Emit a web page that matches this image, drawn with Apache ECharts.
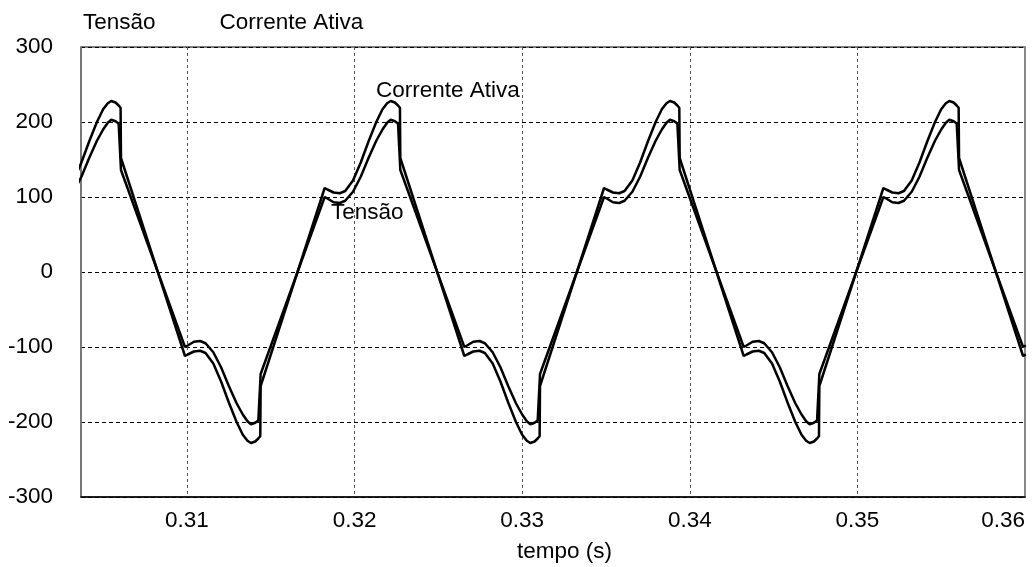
<!DOCTYPE html>
<html>
<head>
<meta charset="utf-8">
<script src="https://cdn.jsdelivr.net/npm/echarts@6/dist/echarts.min.js"></script>
<style>html,body{margin:0;padding:0;background:#fff}#c{width:1035px;height:567px}</style>
</head>
<body>
<div id="c"></div>
<script>
// tempo (s)
const tempo = [
  0.303241,0.303704,0.304167,0.304630,0.305000,0.305278,0.305486,0.305741,0.305926,0.306042,0.306065,
  0.309884,0.310046,0.310417,0.310787,0.311111,0.311574,0.312037,0.312500,0.312963,0.313333,0.313611,0.313819,0.314074,0.314259,0.314375,0.314398,
  0.318218,0.318380,0.318750,0.319121,0.319444,0.319907,0.320370,0.320833,0.321296,0.321667,0.321944,0.322153,0.322407,0.322593,0.322708,0.322731,
  0.326551,0.326713,0.327083,0.327454,0.327778,0.328241,0.328704,0.329167,0.329630,0.330000,0.330278,0.330486,0.330741,0.330926,0.331042,0.331065,
  0.334884,0.335046,0.335417,0.335787,0.336111,0.336574,0.337037,0.337500,0.337963,0.338333,0.338611,0.338819,0.339074,0.339259,0.339375,0.339398,
  0.343218,0.343380,0.343750,0.344120,0.344444,0.344907,0.345370,0.345833,0.346296,0.346667,0.346944,0.347153,0.347407,0.347593,0.347708,0.347731,
  0.351551,0.351713,0.352083,0.352454,0.352778,0.353241,0.353704,0.354167,0.354630,0.355000,0.355278,0.355486,0.355741,0.355926,0.356042,0.356065,
  0.359884,0.360046
];
// Corrente Ativa
const corrente = [
  122,146,174,200,217,225,228,226,222,219,152,
  -112,-110,-106,-105,-108,-122,-146,-174,-200,-217,-225,-228,-226,-222,-219,-152,
  112,110,106,105,108,122,146,174,200,217,225,228,226,222,219,152,
  -112,-110,-106,-105,-108,-122,-146,-174,-200,-217,-225,-228,-226,-222,-219,-152,
  112,110,106,105,108,122,146,174,200,217,225,228,226,222,219,152,
  -112,-110,-106,-105,-108,-122,-146,-174,-200,-217,-225,-228,-226,-222,-219,-152,
  112,110,106,105,108,122,146,174,200,217,225,228,226,222,219,152,
  -112,-110
];
// Tensão
const tensao = [
  107,127,152,175,190,199,203,201,198,196,136,
  -100,-98,-93,-92,-95,-107,-127,-152,-175,-190,-199,-203,-201,-198,-196,-136,
  100,98,93,92,95,107,127,152,175,190,199,203,201,198,196,136,
  -100,-98,-93,-92,-95,-107,-127,-152,-175,-190,-199,-203,-201,-198,-196,-136,
  100,98,93,92,95,107,127,152,175,190,199,203,201,198,196,136,
  -100,-98,-93,-92,-95,-107,-127,-152,-175,-190,-199,-203,-201,-198,-196,-136,
  100,98,93,92,95,107,127,152,175,190,199,203,201,198,196,136,
  -100,-98
];
const seriesNames = ['Tensão', 'Corrente Ativa'];
const xAxisTitle = 'tempo (s)';

const FONT = 'Liberation Sans, Arial, sans-serif';
const FS = 22.5;
const pair = (ys) => tempo.map((t, i) => [t, ys[i]]);

const chart = echarts.init(document.getElementById('c'), null, {renderer: 'canvas'});
chart.setOption({
  animation: false,
  backgroundColor: '#fff',
  textStyle: {fontFamily: FONT},
  grid: {left: 81, right: 10, top: 47, bottom: 70, show: true, borderColor: '#000', borderWidth: 1, containLabel: false},
  legend: {
    data: seriesNames, left: 72, top: 6, itemWidth: 0, itemHeight: 0, itemGap: 58,
    textStyle: {fontFamily: FONT, fontSize: FS, color: '#000'}, selectedMode: false
  },
  xAxis: [{
    type: 'value', min: 0.30368, max: 0.36, splitNumber: 5,
    axisLine: {show: true, onZero: false, lineStyle: {color: '#000', width: 1.5}},
    axisTick: {show: false},
    axisLabel: {
      fontFamily: FONT, fontSize: FS, color: '#000', margin: 12,
      showMinLabel: false, showMaxLabel: true, alignMaxLabel: 'right',
      formatter: v => v.toFixed(2)
    },
    splitLine: {show: true, lineStyle: {color: '#555', width: 1, type: [3, 3]}}
  }],
  yAxis: [{
    type: 'value', min: -300, max: 300, interval: 100,
    axisLine: {show: true, onZero: false, lineStyle: {color: '#777', width: 2}},
    axisTick: {show: false},
    axisLabel: {fontFamily: FONT, fontSize: FS, color: '#000', margin: 28},
    splitLine: {show: true, lineStyle: {color: '#000', width: 1, type: [4, 3]}}
  }, {
    type: 'value', min: -300, max: 300, interval: 100, position: 'right',
    axisLine: {show: true, onZero: false, lineStyle: {color: '#888', width: 2}},
    axisTick: {show: false}, axisLabel: {show: false}, splitLine: {show: false}
  }],
  series: [
    {name: seriesNames[0], type: 'line', data: pair(tensao), showSymbol: false, symbol: 'none',
     lineStyle: {color: '#000', width: 2.5}, itemStyle: {color: '#000'}, clip: true},
    {name: seriesNames[1], type: 'line', data: pair(corrente), showSymbol: false, symbol: 'none',
     lineStyle: {color: '#000', width: 2.5}, itemStyle: {color: '#000'}, clip: true}
  ],
  graphic: [
    {type: 'text', left: 376, top: 79, style: {text: seriesNames[1], font: FS + 'px ' + FONT, fill: '#000'}},
    {type: 'text', left: 331, top: 201, style: {text: seriesNames[0], font: FS + 'px ' + FONT, fill: '#000'}},
    {type: 'text', left: 517, top: 540, style: {text: xAxisTitle, font: FS + 'px ' + FONT, fill: '#000'}}
  ]
});
</script>
</body>
</html>
